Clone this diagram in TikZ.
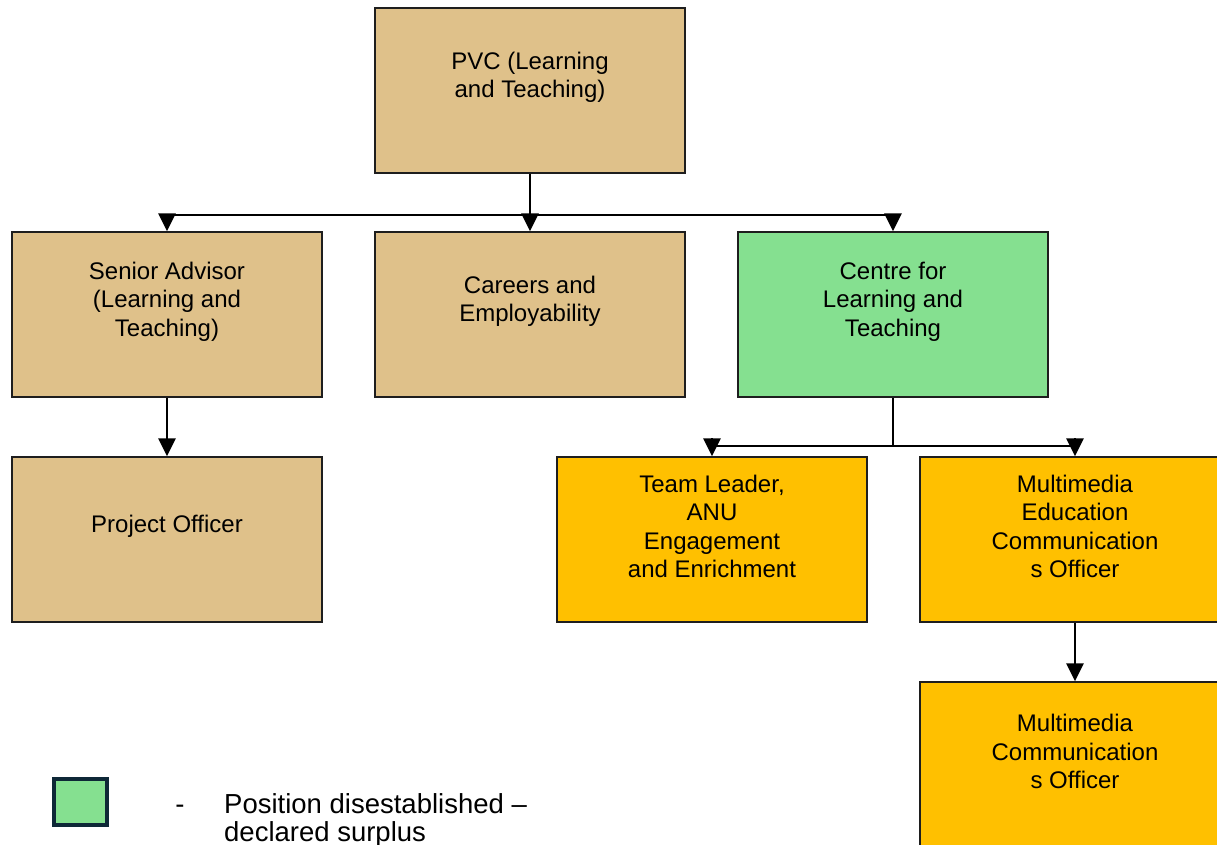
\documentclass[tikz,border=0pt]{standalone}
\usepackage{fontspec}
\setmainfont{Liberation Sans}
\usetikzlibrary{arrows.meta,calc}
\definecolor{boxtan}{RGB}{223,193,138}
\definecolor{boxgreen}{RGB}{133,224,144}
\definecolor{boxorange}{RGB}{255,192,0}
\definecolor{boxline}{RGB}{30,30,30}
\definecolor{keyline}{RGB}{14,40,55}
\begin{document}
\begin{tikzpicture}[x=1pt,y=-1pt,
  box/.style={draw=boxline, line width=1.3pt, minimum width=310pt,
    minimum height=165pt, inner sep=0pt},
  boxtext/.style={align=center, font=\fontsize{24}{28.5}\selectfont, yshift=13pt},
  vline/.style={line width=2.8pt},
  hline/.style={line width=2.3pt},
  arr/.style={line width=2.8pt, -{Triangle[length=18pt,width=17pt]}},
  keytext/.style={font=\fontsize{27.5}{28.5}\selectfont, inner sep=0pt}]
\useasboundingbox (0,0) rectangle (1217,845);
\clip (0,0) rectangle (1217,845);

% positions
\node[box, fill=boxtan, label={[boxtext]center:{PVC (Learning\\and Teaching)}}] (pvc) at (530,90.5) {};
\node[box, fill=boxtan, label={[boxtext]center:{Senior Advisor\\(Learning and\\Teaching)}}] (senior) at (167,314.5) {};
\node[box, fill=boxtan, label={[boxtext]center:{Careers and\\Employability}}] (careers) at (530,314.5) {};
\node[box, fill=boxgreen, label={[boxtext]center:{Centre for\\Learning and\\Teaching}}] (centre) at (893,314.5) {};
\node[box, fill=boxtan, label={[boxtext]center:{Project Officer}}] (project) at (167,539.5) {};
\node[box, fill=boxorange, label={[boxtext]center:{Team Leader,\\ANU\\Engagement\\and Enrichment}}] (team) at (712,539.5) {};
\node[box, fill=boxorange, label={[boxtext]center:{Multimedia\\Education\\Communication\\s Officer}}] (mmedu) at (1075,539.5) {};
\node[box, fill=boxorange, label={[boxtext]center:{Multimedia\\Communication\\s Officer}}] (mmcomm) at (1075,764.5) {};

% reporting lines under the PVC
\coordinate (bus1) at (530,215);
\coordinate (bus1l) at (167,215);
\coordinate (bus1r) at (893,215);
\draw[vline] (pvc.south) -- (bus1);
\draw[hline] (bus1l) -- (bus1r);
\draw[arr] (bus1l) -- (senior.north);
\draw[arr] (bus1) -- (careers.north);
\draw[arr] (bus1r) -- (centre.north);

% reporting lines under the Centre
\coordinate (bus2) at (893,446);
\coordinate (bus2l) at (712,446);
\coordinate (bus2r) at (1075,446);
\coordinate (tipl) at (712,438);
\coordinate (tipr) at (1075,438);
\draw[vline] (centre.south) -- (bus2);
\draw[hline] (bus2l) -- (bus2r);
\draw[arr] (tipl) -- (team.north);
\draw[arr] (tipr) -- (mmedu.north);

% single reports
\draw[arr] (senior.south) -- (project.north);
\draw[arr] (mmedu.south) -- (mmcomm.north);

% key
\node[draw=keyline, line width=4pt, fill=boxgreen, minimum width=53pt,
  minimum height=46pt, inner sep=0pt] (keybox) at (80.5,802) {};
\node[keytext, anchor=base] (keydash) at (180,813) {-};
\node[keytext, anchor=north west, align=left] (keylabel) at (224,793)
  {Position disestablished –\\declared surplus};
\end{tikzpicture}
\end{document}
